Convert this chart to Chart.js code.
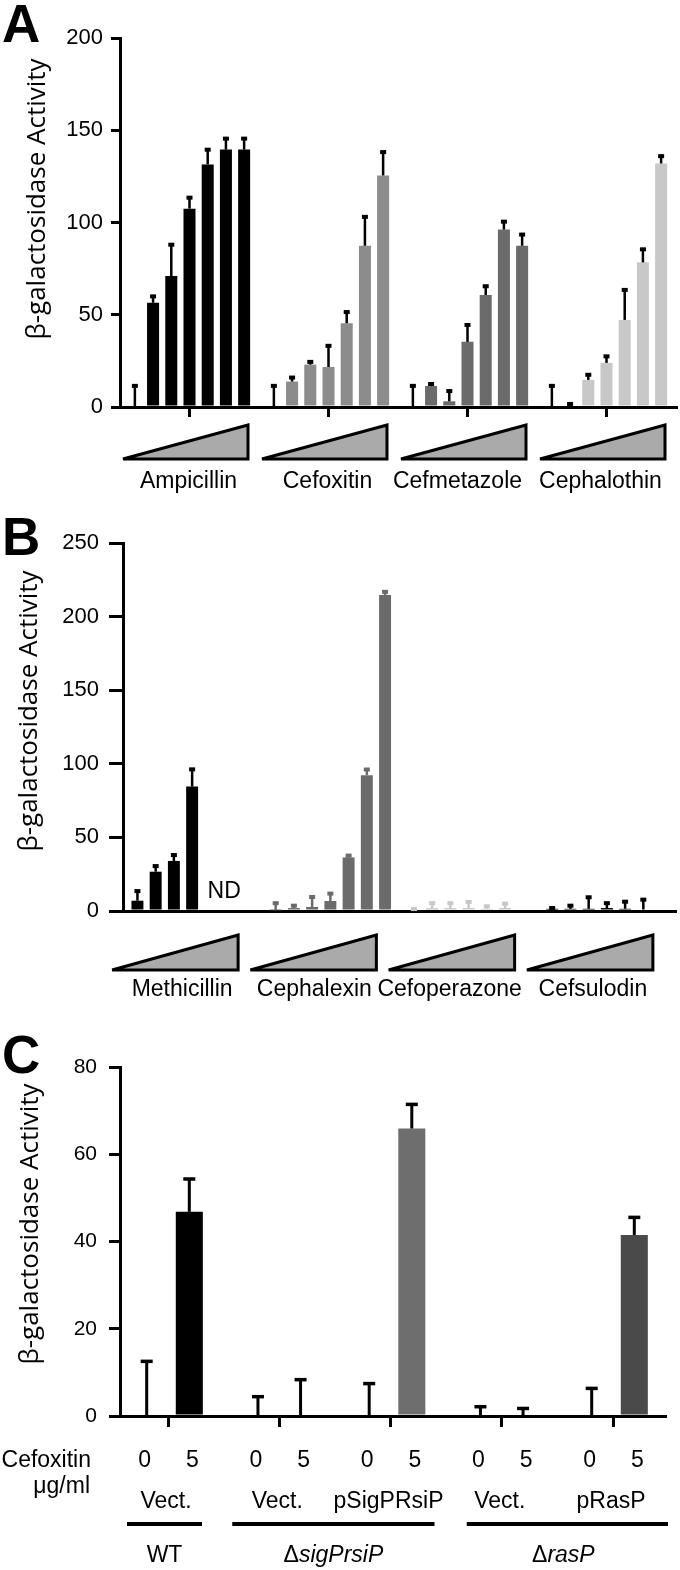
<!DOCTYPE html>
<html>
<head>
<meta charset="utf-8">
<script src="https://cdn.jsdelivr.net/npm/chart.js@4.4.1/dist/chart.umd.min.js"></script>
<style>
  html, body { margin: 0; padding: 0; background: #fff; }
  #wrap { position: relative; width: 680px; height: 1570px; }
  canvas { position: absolute; left: 0; }
</style>
</head>
<body>
<div id="wrap">
  <canvas id="chartA" width="680" height="500" style="top:0"></canvas>
  <canvas id="chartB" width="680" height="505" style="top:500px"></canvas>
  <canvas id="chartC" width="680" height="565" style="top:1005px"></canvas>
</div>
<script>
// ---- panel A: 7 increasing doses per drug ----
const yTicksA = [0, 50, 100, 150, 200];
const drugsA = ['Ampicillin', 'Cefoxitin', 'Cefmetazole', 'Cephalothin'];
const ampicillin    = [0, 56.5, 71, 107.5, 131.5, 139.5, 139.5];
const ampicillinSd  = [12, 4, 17.5, 6.5, 8.5, 6.5, 6.5];
const cefoxitin     = [0, 13.8, 23, 21.7, 45.4, 87.4, 125.5];
const cefoxitinSd   = [12, 2.7, 2, 12, 6.6, 16.2, 13.2];
const cefmetazole   = [0, 11.4, 3.1, 35.3, 60.7, 96.2, 87.4];
const cefmetazoleSd = [12, 1.6, 6.1, 9.7, 5.3, 4.8, 6.6];
const cephalothin   = [0, 0, 14.7, 23.9, 47.2, 78.4, 132];
const cephalothinSd = [12, 2.2, 3.3, 4.1, 16.8, 7.6, 4.5];

// ---- panel B ----
const yTicksB = [0, 50, 100, 150, 200, 250];
const drugsB = ['Methicillin', 'Cephalexin', 'Cefoperazone', 'Cefsulodin'];
const methicillin    = [7, 26.7, 34, 84.5, null, null, null];
const methicillinSd  = [7.2, 4.5, 4.7, 12.4, null, null, null];
const cephalexin     = [0.5, 2, 2.7, 6.8, 36.4, 92.3, 214.6];
const cephalexinSd   = [5.5, 2.3, 7.5, 5.7, 1.9, 4.5, 2.9];
const cefoperazone   = [1, 2, 2, 2, 1.5, 2, null];
const cefoperazoneSd = [1, 4, 4, 4.8, 2.4, 3.7, null];
const cefsulodin     = [1.5, 1.5, 1.5, 2, 1.5, 1, null];
const cefsulodinSd   = [1.2, 2.8, 8.5, 4, 5.5, 7.4, null];

// ---- panel C: cefoxitin 0 / 5 ug/ml ----
const yTicksC = [0, 20, 40, 60, 80];
const doses = ['0', '5'];
const plasmids = ['Vect.', 'Vect.', 'pSigPRsiP', 'Vect.', 'pRasP'];
const strains = ['WT', 'ΔsigPrsiP', 'ΔrasP'];
const strainSpan = [[0, 0], [1, 2], [3, 4]];
const dose0   = [0, 0, 0, 0, 0];
const dose0Sd = [12.7, 4.6, 7.6, 2.3, 6.5];
const dose5   = [46.8, 0, 65.9, 0, 41.5];
const dose5Sd = [7.7, 8.5, 5.7, 1.9, 4.2];

const FONT = '"Liberation Sans", Arial, Helvetica, sans-serif';
const TITLE_FONT = '26px "Open Sans", "Noto Sans", sans-serif';
const TITLE = 'β-galactosidase Activity';
const LABEL = '23px ' + FONT;

// one dataset per dose level, one bar per drug in it
function doseSets(groups, sds, colors, errColors) {
  return groups[0].map((_, j) => ({
    data: groups.map(g => g[j]),
    err: sds.map(s => s[j]),
    backgroundColor: colors,
    errColor: errColors
  }));
}

function yScale(ticks, w, tickLen, pad, size) {
  return {
    min: ticks[0],
    max: ticks[ticks.length - 1],
    afterBuildTicks: s => { s.ticks = ticks.map(v => ({ value: v })); },
    afterFit: s => { s.width = w; },
    border: { display: true, color: '#000', width: 3 },
    grid: { drawOnChartArea: false, color: '#000', lineWidth: 3, tickLength: tickLen },
    ticks: { color: '#000', padding: pad, font: { family: FONT, size: size } }
  };
}

// error bars, panel letter, rotated y title, plus per-panel extras
function makeDecor(cfg) {
  return {
    id: 'decor',
    afterDatasetsDraw(chart) {
      const ctx = chart.ctx, ys = chart.scales.y;
      ctx.save();
      chart.data.datasets.forEach((ds, j) => {
        chart.getDatasetMeta(j).data.forEach((bar, i) => {
          const raw = ds.data[i];
          const v = raw !== null && typeof raw === 'object' ? raw.y : raw;
          if (v == null || ds.err[i] == null) return;
          const base = ys.getPixelForValue(v);
          const top = ys.getPixelForValue(v + ds.err[i]);
          ctx.fillStyle = ds.errColor[i];
          ctx.fillRect(bar.x - cfg.stem / 2, top, cfg.stem, base - top);
          ctx.fillRect(bar.x - cfg.capW / 2, top - 1, cfg.capW, cfg.capH);
        });
      });
      ctx.restore();
    },
    afterDraw(chart) {
      const ctx = chart.ctx;
      ctx.save();
      ctx.fillStyle = '#000';
      ctx.font = 'bold 53px ' + FONT;
      ctx.fillText(cfg.letter, 2, cfg.letterY);
      ctx.save();
      ctx.font = TITLE_FONT;
      ctx.textAlign = 'center';
      ctx.translate(cfg.titleX, cfg.titleY);
      ctx.rotate(-Math.PI / 2);
      ctx.fillText(TITLE, 0, 0);
      ctx.restore();
      if (cfg.extra) cfg.extra(chart, ctx);
      ctx.restore();
    }
  };
}

// dose wedges and drug names under each group
function wedges(labels, shift, nameShift, top, bottom, width, nameY) {
  return (chart, ctx) => {
    const xs = chart.scales.x;
    labels.forEach((name, i) => {
      const cx = xs.getPixelForValue(i) + shift;
      ctx.beginPath();
      ctx.moveTo(cx - width / 2, bottom);
      ctx.lineTo(cx + width / 2, top);
      ctx.lineTo(cx + width / 2, bottom);
      ctx.closePath();
      ctx.fillStyle = '#aaaaaa';
      ctx.fill();
      ctx.lineWidth = 3;
      ctx.miterLimit = 3;
      ctx.strokeStyle = '#000';
      ctx.stroke();
      ctx.fillStyle = '#000';
      ctx.font = LABEL;
      ctx.textAlign = 'center';
      ctx.fillText(name, cx + nameShift[i], nameY);
    });
  };
}

function baseOptions(pad, xScale, yS, cat, bar) {
  return {
    responsive: false,
    animation: false,
    devicePixelRatio: 1,
    events: [],
    categoryPercentage: cat,
    barPercentage: bar,
    layout: { padding: pad },
    plugins: { legend: { display: false }, tooltip: { enabled: false } },
    scales: { x: xScale, y: yS }
  };
}

// ---------- A ----------
const colorsA = ['#000000', '#8c8c8c', '#6b6b6b', '#c8c8c8'];
const errColorsA = ['#000', '#000', '#000', '#000'];
new Chart(document.getElementById('chartA'), {
  type: 'bar',
  data: {
    labels: drugsA,
    datasets: doseSets([ampicillin, cefoxitin, cefmetazole, cephalothin],
      [ampicillinSd, cefoxitinSd, cefmetazoleSd, cephalothinSd], colorsA, errColorsA)
  },
  options: baseOptions({ top: 38, right: 4, left: 0, bottom: 0 }, {
    type: 'category',
    afterFit: s => { s.height = 93; },
    border: { display: true, color: '#000', width: 3 },
    grid: { offset: false, drawOnChartArea: false, color: '#000', lineWidth: 3, tickLength: 10 },
    ticks: { display: false }
  }, yScale(yTicksA, 120, 9, 8, 22), 0.917, 0.66),
  plugins: [makeDecor({
    letter: 'A', letterY: 42, titleX: 45, titleY: 199,
    stem: 2.5, capW: 6, capH: 4,
    extra: wedges(drugsA, -4, [3, 3, -6, -2], 425, 459, 125, 488)
  })]
});

// ---------- B ----------
const colorsB = ['#000000', '#6b6b6b', '#c8c8c8', '#000000'];
const errColorsB = ['#000000', '#6b6b6b', '#c8c8c8', '#000000'];
new Chart(document.getElementById('chartB'), {
  type: 'bar',
  data: {
    labels: drugsB,
    datasets: doseSets([methicillin, cephalexin, cefoperazone, cefsulodin],
      [methicillinSd, cephalexinSd, cefoperazoneSd, cefsulodinSd], colorsB, errColorsB)
  },
  options: baseOptions({ top: 43, right: 4, left: 0, bottom: 0 }, {
    type: 'category',
    afterFit: s => { s.height = 94; },
    border: { display: true, color: '#000', width: 3 },
    grid: { display: false },
    ticks: { display: false }
  }, yScale(yTicksB, 123, 14, 10, 22), 0.923, 0.656),
  plugins: [makeDecor({
    letter: 'B', letterY: 55, titleX: 37, titleY: 211,
    stem: 2.5, capW: 6, capH: 4,
    extra: (chart, ctx) => {
      wedges(drugsB, -17, [7, 1, -2, 3], 435, 470, 126, 496)(chart, ctx);
      ctx.fillStyle = '#000';
      ctx.font = LABEL;
      ctx.textAlign = 'center';
      ctx.fillText('ND', chart.scales.x.getPixelForValue(0) + 32, 398);
    }
  })]
});

// ---------- C ----------
function drawStrain(ctx, name, cx, y) {
  const up = LABEL, it = 'italic ' + LABEL;
  if (name[0] !== 'Δ') { ctx.font = up; ctx.textAlign = 'center'; ctx.fillText(name, cx, y); return; }
  ctx.font = up; const w1 = ctx.measureText('Δ').width;
  ctx.font = it; const w2 = ctx.measureText(name.slice(1)).width;
  const x0 = cx - (w1 + w2) / 2;
  ctx.textAlign = 'left';
  ctx.font = up; ctx.fillText('Δ', x0, y);
  ctx.font = it; ctx.fillText(name.slice(1), x0 + w1, y);
}

const colorsC5 = ['#000000', '#000000', '#6e6e6e', '#000000', '#4a4a4a'];
const lineLeft = [-41, -47, -35];
const lineRight = [34, 44, 55];
const strainShift = [0, 0, -4];
new Chart(document.getElementById('chartC'), {
  type: 'bar',
  data: {
    datasets: [
      { data: dose0.map((v, i) => ({ x: i, y: v })), err: dose0Sd,
        backgroundColor: '#000', errColor: dose0.map(() => '#000') },
      { data: dose5.map((v, i) => ({ x: i, y: v })), err: dose5Sd,
        backgroundColor: colorsC5, errColor: dose5.map(() => '#000') }
    ]
  },
  options: baseOptions({ top: 62, right: 15, left: 0, bottom: 0 }, {
    type: 'linear', min: -0.4315, max: 4.4674, offset: false,
    afterBuildTicks: s => { s.ticks = plasmids.map((_, i) => ({ value: i })); },
    afterFit: s => { s.height = 154; },
    border: { display: true, color: '#000', width: 3 },
    grid: { offset: false, drawOnChartArea: false, color: '#000', lineWidth: 3, tickLength: 11 },
    ticks: { display: false }
  }, yScale(yTicksC, 120, 11, 12, 21), 0.766, 0.635),
  plugins: [makeDecor({
    letter: 'C', letterY: 68, titleX: 38, titleY: 219,
    stem: 3, capW: 12, capH: 3.5,
    extra: (chart, ctx) => {
      const xs = chart.scales.x;
      ctx.fillStyle = '#000';
      ctx.font = LABEL;
      ctx.textAlign = 'right';
      ctx.fillText('Cefoxitin', 91, 462);
      ctx.fillText('μg/ml', 90, 488);
      ctx.textAlign = 'center';
      chart.data.datasets.forEach((ds, j) => {
        chart.getDatasetMeta(j).data.forEach(bar => ctx.fillText(doses[j], bar.x + (j ? 3 : -2), 462));
      });
      plasmids.forEach((p, i) => ctx.fillText(p, xs.getPixelForValue(i) - 2, 503));
      strains.forEach((s, k) => {
        const x1 = xs.getPixelForValue(strainSpan[k][0]) + lineLeft[k];
        const x2 = xs.getPixelForValue(strainSpan[k][1]) + lineRight[k];
        ctx.fillRect(x1, 517, x2 - x1, 4);
        drawStrain(ctx, s, (x1 + x2) / 2 + strainShift[k], 557);
      });
    }
  })]
});
</script>
</body>
</html>
